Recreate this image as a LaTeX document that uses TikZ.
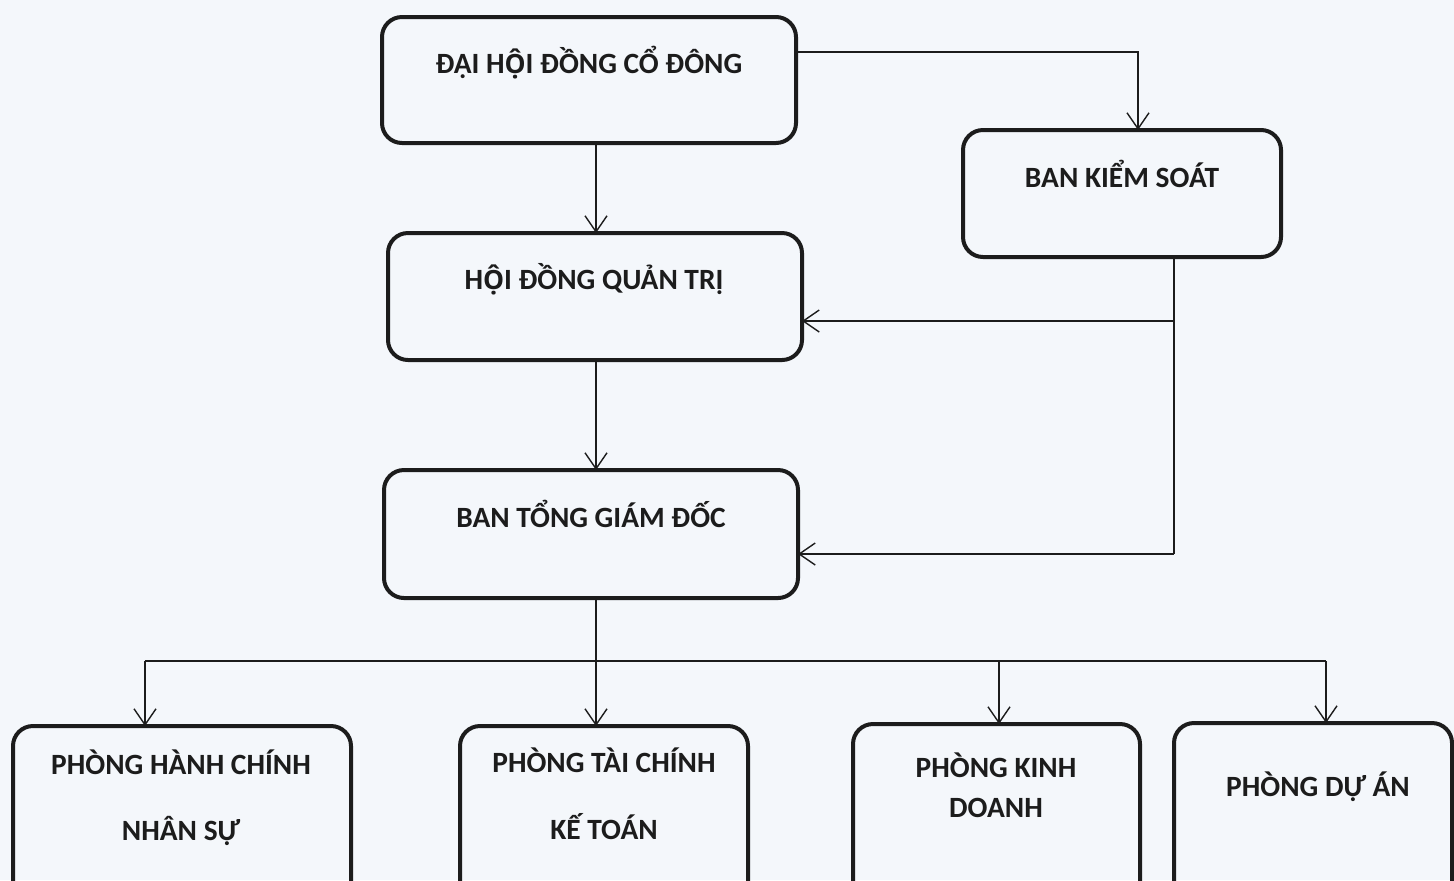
\documentclass[tikz,border=0pt]{standalone}
\usepackage{fontspec}
\setmainfont{Carlito}
\newfontfamily\osfont{Open Sans}[Scale=0.9]
\newcommand\OHOI{{\osfont Ộ}}
\usetikzlibrary{arrows.meta}
\definecolor{bg}{HTML}{F4F7FB}
\definecolor{ink}{HTML}{1C1C1C}
\begin{document}
\begin{tikzpicture}[x=0.5pt,y=-0.5pt,
  box/.style={draw=ink, line width=2pt, rounded corners=10pt, inner sep=0pt, outer sep=0pt},
  lbl/.style={anchor=base, inner sep=0pt, text=ink, font=\fontsize{14.7}{17}\selectfont\bfseries},
  arr/.style={draw=ink, line width=0.7pt, -{Straight Barb[length=8pt,width=11pt,line width=0.7pt]}},
  ln/.style={draw=ink, line width=0.7pt}]
\useasboundingbox (0,0) rectangle (1454,880);
\clip (0,0) rectangle (1454,880);
\fill[bg] (0,0) rectangle (1454,880);

% boxes
\node[box, minimum width=207pt, minimum height=63pt] (dh) at (589,80) {};
\node[box, minimum width=159pt, minimum height=63.5pt] (bks) at (1122,193.5) {};
\node[box, minimum width=207pt, minimum height=63.5pt] (hd) at (595,296.5) {};
\node[box, minimum width=207pt, minimum height=64pt] (bt) at (591,534) {};
\node[box, minimum width=169pt, minimum height=97pt] (p1) at (182,823) {};
\node[box, minimum width=144pt, minimum height=97pt] (p2) at (604,823) {};
\node[box, minimum width=143.5pt, minimum height=98pt] (p3) at (996.5,822) {};
\node[box, minimum width=139pt, minimum height=98.5pt] (p4) at (1313,821.5) {};

% labels
\node[lbl] (t0) at (589,73) {ĐẠI H\OHOI I ĐỒNG CỔ ĐÔNG};
\node[lbl] (tk) at (1122,187) {BAN KIỂM SOÁT};
\node[lbl] (th) at (594,289) {H\OHOI I ĐỒNG QUẢN TRỊ};
\node[lbl] (tb) at (591,527) {BAN TỔNG GIÁM ĐỐC};
\node[lbl] (t1a) at (181,774) {PHÒNG HÀNH CHÍNH};
\node[lbl] (t1b) at (181,840) {NHÂN SỰ};
\node[lbl] (t2a) at (604,772) {PHÒNG TÀI CHÍNH};
\node[lbl] (t2b) at (604,839) {KẾ TOÁN};
\node[lbl] (t3a) at (996,777) {PHÒNG KINH};
\node[lbl] (t3b) at (996,817) {DOANH};
\node[lbl] (t4) at (1318,796) {PHÒNG DỰ ÁN};

% connectors
\coordinate (j1) at (1138,52);
\draw[arr] (dh.east |- j1) -- (j1) -- (j1 |- bks.north);

\coordinate (v1) at (596,0);
\draw[arr] (v1 |- dh.south) -- (v1 |- hd.north);
\draw[arr] (v1 |- hd.south) -- (v1 |- bt.north);

\coordinate (k0) at (1174,0);
\coordinate (ka) at (1174,321);
\coordinate (kb) at (1174,554);
\draw[ln] (k0 |- bks.south) -- (kb);
\draw[arr] (ka) -- (ka -| hd.east);
\draw[arr] (kb) -- (kb -| bt.east);

\coordinate (b1) at (145,661);
\coordinate (b3) at (999,661);
\coordinate (b4) at (1326,661);
\draw[ln] (b1) -- (b4);
\draw[arr] (v1 |- bt.south) -- (v1 |- p2.north);
\draw[arr] (b1) -- (b1 |- p1.north);
\draw[arr] (b3) -- (b3 |- p3.north);
\draw[arr] (b4) -- (b4 |- p4.north);
\end{tikzpicture}
\end{document}
